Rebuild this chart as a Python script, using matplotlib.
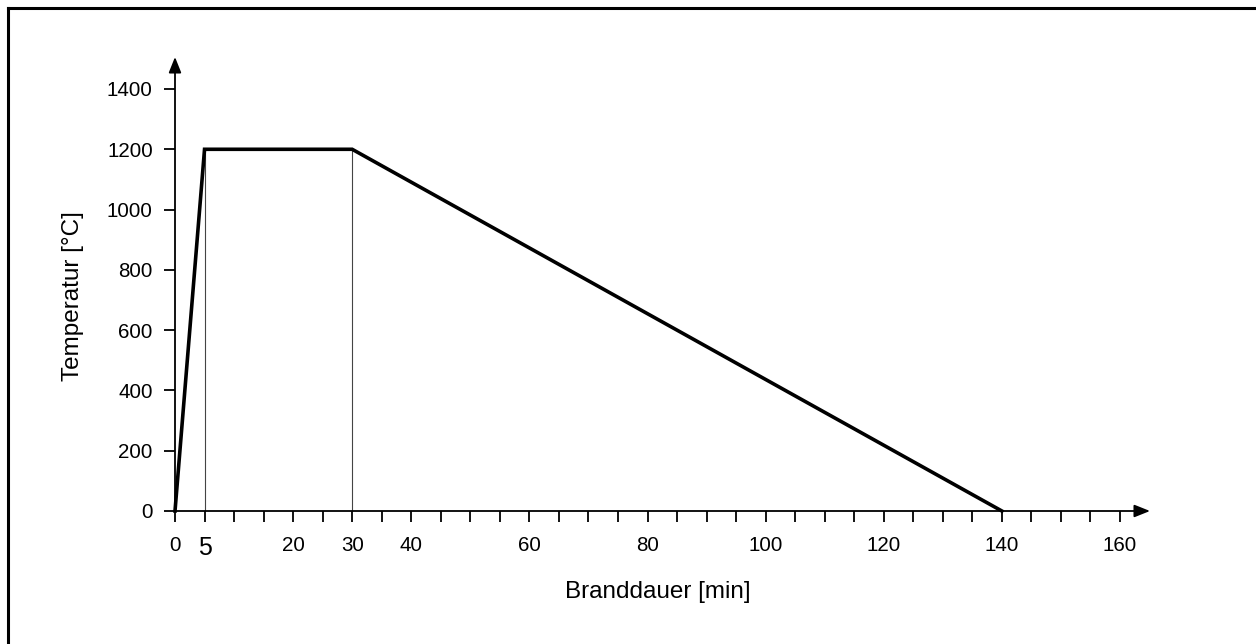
import matplotlib
matplotlib.use("Agg")
import matplotlib.pyplot as plt
from matplotlib.lines import Line2D

plt.rcParams['font.family'] = ['Liberation Sans', 'DejaVu Sans']

# Data
time_min = [0, 5, 30, 140]
temp_c = [0, 1200, 1200, 0]
guide_x = [5, 30]
guide_top = 1200
x_ticks = list(range(0, 161, 5))
x_labels_at = [0, 5, 20, 30, 40, 60, 80, 100, 120, 140, 160]
y_ticks = [0, 200, 400, 600, 800, 1000, 1200, 1400]
xlabel = "Branddauer [min]"
ylabel = "Temperatur [°C]"

W, H = 1256, 644
fig = plt.figure(figsize=(W / 100, H / 100), dpi=100)

x0, x1 = 175, 1150
y0, y1 = 511, 57
ax = fig.add_axes([x0 / W, 1 - y0 / H, (x1 - x0) / W, (y0 - y1) / H])
xmax = 160 * (x1 - x0) / (1120 - x0)
ymax = 1400 * (y0 - y1) / (y0 - 89)
ax.set_xlim(0, xmax)
ax.set_ylim(0, ymax)

for s in ax.spines.values():
    s.set_visible(False)

# axis lines with arrows
ax.annotate("", xy=(1, 0), xytext=(0, 0), xycoords="axes fraction",
            arrowprops=dict(arrowstyle="-|>,head_length=0.95,head_width=0.38",
                            color="black", lw=1.3, shrinkA=0, shrinkB=0),
            annotation_clip=False)
ax.annotate("", xy=(0, 1), xytext=(0, 0), xycoords="axes fraction",
            arrowprops=dict(arrowstyle="-|>,head_length=0.95,head_width=0.38",
                            color="black", lw=1.3, shrinkA=0, shrinkB=0),
            annotation_clip=False)

# guide lines
for gx in guide_x:
    ax.plot([gx, gx], [0, guide_top], color="#444444", lw=0.8, zorder=2)

ax.plot(time_min, temp_c, color="black", lw=2.6, solid_joinstyle="miter", zorder=3,
        clip_on=False)

ax.set_xticks(x_ticks)
ax.set_xticklabels([str(t) if t in x_labels_at else "" for t in x_ticks])
ax.set_yticks(y_ticks)
ax.tick_params(axis="x", direction="out", length=8, width=1.3, pad=10, labelsize=14.8)
ax.tick_params(axis="y", direction="out", length=8, width=1.3, pad=8, labelsize=14.8)
for lbl in ax.get_xticklabels():
    if lbl.get_text() == "5":
        lbl.set_fontsize(18)

ax.set_xlabel(xlabel, fontsize=17.5)
ax.set_ylabel(ylabel, fontsize=17.5)
ax.xaxis.set_label_coords((658 - x0) / (x1 - x0), -(581 - y0) / (y0 - y1))
ax.yaxis.set_label_coords(-(x0 - 84) / (x1 - x0), (y0 - 296) / (y0 - y1))

# frame (left and top edges)
fig.add_artist(Line2D([7.5 / W, 7.5 / W], [0, 1 - 7.5 / H], transform=fig.transFigure,
                      color="black", lw=2.2))
fig.add_artist(Line2D([7.5 / W, 1], [1 - 7.5 / H, 1 - 7.5 / H], transform=fig.transFigure,
                      color="black", lw=2.2))

fig.savefig("out.png", dpi=100)
